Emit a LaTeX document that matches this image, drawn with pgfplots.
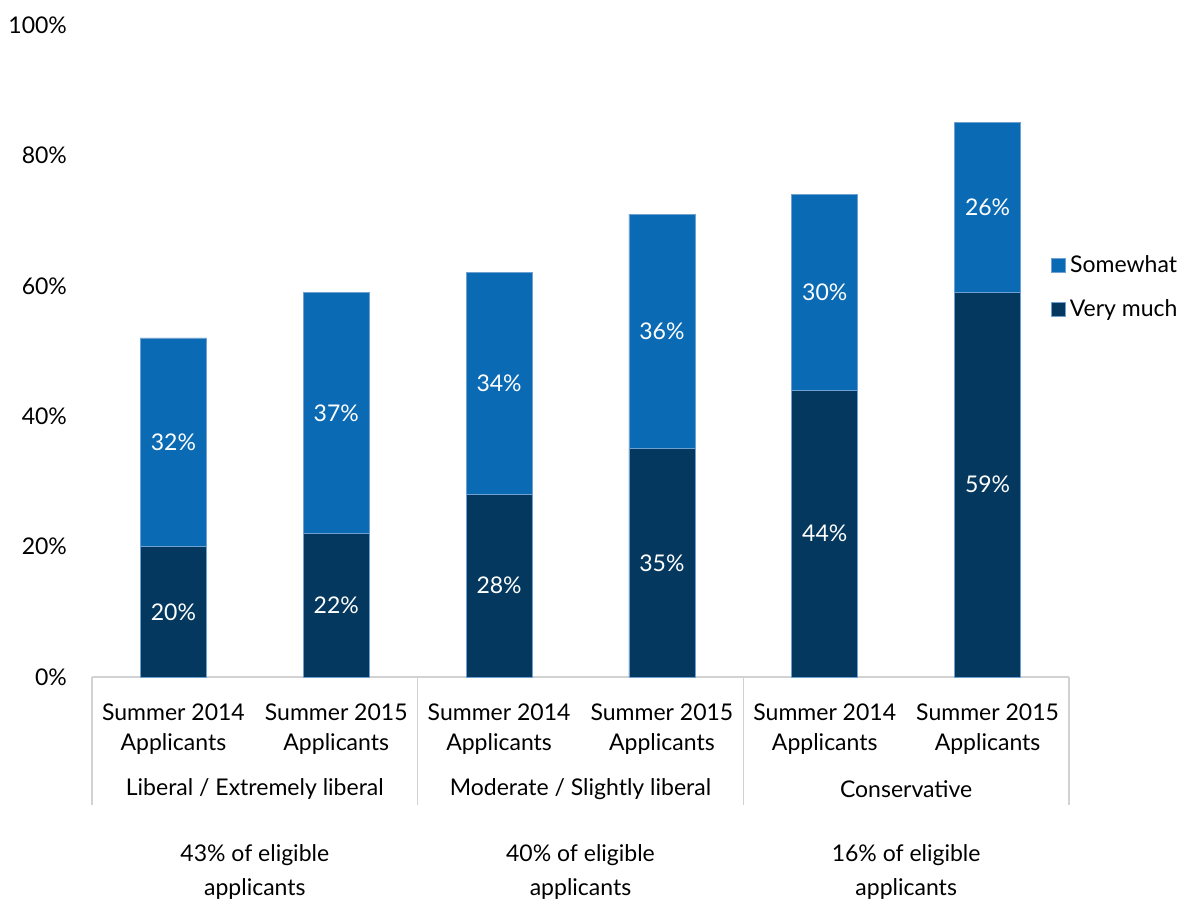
\documentclass[border=0pt]{standalone}
\usepackage{pgfplots}
\pgfplotsset{compat=1.18}
\usepackage{pgfplotstable}
\usepackage{fontspec}
\setmainfont{Lato}
\definecolor{somewhat}{RGB}{10,106,180}
\definecolor{verymuch}{RGB}{4,56,94}
\definecolor{baredge}{RGB}{110,160,210}
\definecolor{gridc}{RGB}{210,210,210}
\pgfplotstableread{
x very some
0 20 32
1 22 37
2 28 34
3 35 36
4 44 30
5 59 26
}\datatable
\begin{document}
\begin{tikzpicture}
\path[use as bounding box] (-46pt,-114pt) rectangle (552pt,338.5pt);
\begin{axis}[
  at={(0,0)}, anchor=south west,
  scale only axis, width=488.5pt, height=326pt,
  ybar stacked, bar width=33pt,
  xmin=-0.5, xmax=5.5, ymin=0, ymax=100,
  axis x line*=bottom, axis y line*=left,
  x axis line style={draw=gridc, line width=0.8pt},
  y axis line style={draw=none},
  major tick length=0pt,
  xtick={0,1,2,3,4,5},
  xticklabels={Summer 2014\\Applicants,Summer 2015\\Applicants,Summer 2014\\Applicants,Summer 2015\\Applicants,Summer 2014\\Applicants,Summer 2015\\Applicants},
  xticklabel style={align=center, font=\fontsize{11.5}{15}\selectfont, yshift=-10pt},
  ytick={0,20,40,60,80,100},
  yticklabels={0\%,20\%,40\%,60\%,80\%,100\%},
  yticklabel style={font=\fontsize{11.5}{14}\selectfont, xshift=-9pt},
  clip=false,
  reverse legend,
  legend style={draw=none, at={(0.975,0.598)}, anchor=west, font=\fontsize{11.5}{14}\selectfont, row sep=8pt},
  legend image code/.code={\fill[#1] (0pt,-3.5pt) rectangle (7pt,3.5pt);},
]
\addplot[fill=verymuch, draw=baredge, line width=0.4pt] table[x=x, y=very] {\datatable};
\addlegendentry{Very much}
\addplot[fill=somewhat, draw=baredge, line width=0.4pt] table[x=x, y=some] {\datatable};
\addlegendentry{Somewhat}
\foreach \xx in {-0.5,1.5,3.5,5.5} {
  \edef\tmp{\noexpand\draw[gridc, line width=0.8pt] (axis cs:\xx,0) -- ([yshift=-64pt]axis cs:\xx,0);}
  \tmp
}
\node[font=\fontsize{11.5}{14}\selectfont] at ([yshift=-56pt]axis cs:0.5,0) {Liberal / Extremely liberal};
\node[font=\fontsize{11.5}{14}\selectfont] at ([yshift=-56pt]axis cs:2.5,0) {Moderate / Slightly liberal};
\node[font=\fontsize{11.5}{14}\selectfont] at ([yshift=-56pt]axis cs:4.5,0) {Conservative};
\node[font=\fontsize{11.5}{17}\selectfont, align=center] at ([yshift=-97.5pt]axis cs:0.5,0) {43\% of eligible\\applicants};
\node[font=\fontsize{11.5}{17}\selectfont, align=center] at ([yshift=-97.5pt]axis cs:2.5,0) {40\% of eligible\\applicants};
\node[font=\fontsize{11.5}{17}\selectfont, align=center] at ([yshift=-97.5pt]axis cs:4.5,0) {16\% of eligible\\applicants};
\end{axis}
\begin{axis}[
  at={(0,0)}, anchor=south west,
  scale only axis, width=488.5pt, height=326pt,
  xmin=-0.5, xmax=5.5, ymin=0, ymax=100,
  hide axis, clip=false,
  /pgf/number format/assume math mode=true,
  nodes near coords={\pgfmathprintnumber{\pgfplotspointmeta}\%},
  point meta=explicit,
  every node near coord/.append style={anchor=center, text=white, font=\fontsize{11.5}{14}\selectfont},
]
\addplot[draw=none, mark=none] table[x=x, y expr=\thisrow{very}/2, meta=very] {\datatable};
\addplot[draw=none, mark=none] table[x=x, y expr=\thisrow{very}+\thisrow{some}/2, meta=some] {\datatable};
\end{axis}
\end{tikzpicture}
\end{document}
